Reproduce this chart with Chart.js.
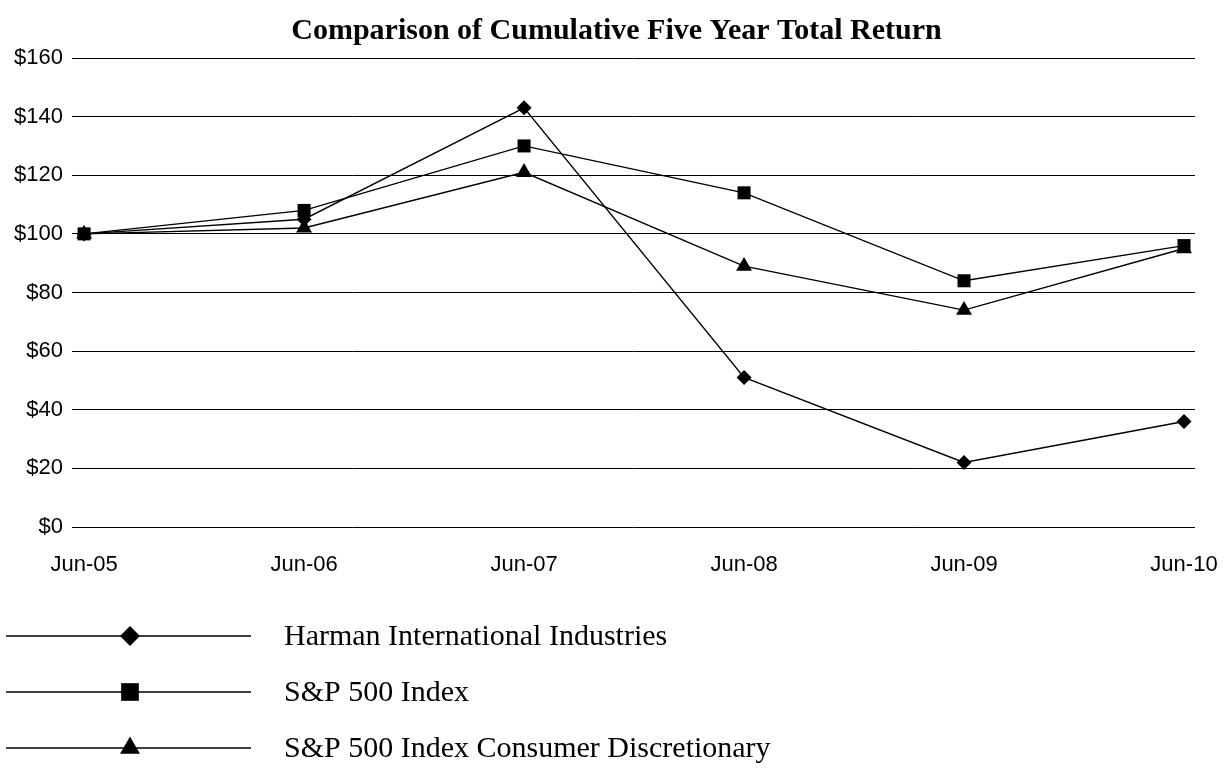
<!DOCTYPE html>
<html>
<head>
<meta charset="utf-8">
<script src="https://cdn.jsdelivr.net/npm/chart.js@4/dist/chart.umd.min.js"></script>
<style>
html,body{margin:0;padding:0;background:#fff;}
#wrap{width:1225px;height:770px;position:relative;}
</style>
</head>
<body>
<div id="wrap"><canvas id="c" width="1225" height="770"></canvas></div>
<script>
const categories = ["Jun-05","Jun-06","Jun-07","Jun-08","Jun-09","Jun-10"];
const harman = [100, 105, 143, 51, 22, 36];
const sp500 = [100, 108, 130, 114, 84, 96];
const spConsumer = [100, 102, 121, 89, 74, 95];
const seriesNames = ["Harman International Industries","S&P 500 Index","S&P 500 Index Consumer Discretionary"];
const yTicks = [0,20,40,60,80,100,120,140,160];

function pts(arr){ return arr.map((v,i)=>({x:i,y:v})); }

const styles = [
  {pointStyle:'rectRot', radius:7.5, legendRadius:10},
  {pointStyle:'rect', radius:9.2, legendRadius:12.5},
  {pointStyle:'triangle', radius:9.2, legendRadius:11.5}
];
const seriesData = [harman, sp500, spConsumer];

function drawMarker(ctx, style, x, y, r){
  ctx.beginPath();
  if(style==='rectRot'){
    ctx.moveTo(x-r,y);ctx.lineTo(x,y-r);ctx.lineTo(x+r,y);ctx.lineTo(x,y+r);
  } else if(style==='rect'){
    const s=Math.SQRT1_2*r; ctx.rect(x-s,y-s,2*s,2*s);
  } else {
    ctx.moveTo(x,y-r);
    ctx.lineTo(x+Math.sin(2*Math.PI/3)*r, y-Math.cos(2*Math.PI/3)*r);
    ctx.lineTo(x+Math.sin(4*Math.PI/3)*r, y-Math.cos(4*Math.PI/3)*r);
  }
  ctx.closePath();
  ctx.fill();
}

const legendPlugin = {
  id:'customLegend',
  afterDraw(chart){
    const ctx = chart.ctx;
    ctx.save();
    const rows=[636,692,748];
    ctx.strokeStyle='#000'; ctx.fillStyle='#000'; ctx.lineWidth=1.5;
    rows.forEach((y,i)=>{
      ctx.beginPath(); ctx.moveTo(6,y); ctx.lineTo(251,y); ctx.stroke();
      drawMarker(ctx, styles[i].pointStyle, 130, y, styles[i].legendRadius);
      ctx.font='30px "Liberation Serif", "Times New Roman", serif';
      ctx.textAlign='left'; ctx.textBaseline='middle';
      ctx.fillText(seriesNames[i], 284, y+1);
    });
    ctx.restore();
  }
};

new Chart(document.getElementById('c'), {
  type:'line',
  data:{
    datasets: seriesData.map((d,i)=>({
      label: seriesNames[i],
      data: pts(d),
      borderColor:'#000',
      backgroundColor:'#000',
      borderWidth:1.4,
      pointStyle: styles[i].pointStyle,
      pointRadius: styles[i].radius,
      pointBorderWidth:0,
      pointBackgroundColor:'#000',
      tension:0
    }))
  },
  options:{
    responsive:false,
    animation:false,
    layout:{padding:{left:8,right:0,top:0,bottom:191}},
    plugins:{
      legend:{display:false},
      tooltip:{enabled:false},
      title:{
        display:true,
        text:'Comparison of Cumulative Five Year Total Return',
        color:'#000',
        font:{family:'"Liberation Serif", "Times New Roman", serif', size:30, weight:'bold'},
        padding:{top:13,bottom:9}
      }
    },
    scales:{
      x:{
        type:'linear',
        min:-0.055, max:5.05,
        afterBuildTicks(s){ s.ticks = categories.map((c,i)=>({value:i})); },
        afterFit(s){ s.height = 52; s.paddingLeft = 0; s.paddingRight = 0; },
        ticks:{
          color:'#000',
          padding:25,
          maxRotation:0,
          autoSkip:false,
          font:{family:'"Liberation Sans", Arial, sans-serif', size:22},
          callback:(v)=>categories[v]
        },
        grid:{display:false, drawTicks:false},
        border:{display:false}
      },
      y:{
        min:0, max:160,
        afterBuildTicks(s){ s.ticks = yTicks.map(v=>({value:v})); },
        afterFit(s){ s.width = 64; s.paddingTop = 0; s.paddingBottom = 0; },
        ticks:{
          color:'#000',
          padding:9,
          font:{family:'"Liberation Sans", Arial, sans-serif', size:22},
          callback:(v)=>'$'+v
        },
        grid:{color:'#000', lineWidth:1, drawTicks:false},
        border:{display:false}
      },
      yRight:{
        position:'right',
        min:0, max:160,
        afterFit(s){ s.width = 30; s.paddingTop = 0; s.paddingBottom = 0; },
        ticks:{display:false},
        grid:{display:false, drawTicks:false},
        border:{display:false}
      }
    }
  },
  plugins:[legendPlugin]
});
</script>
</body>
</html>
